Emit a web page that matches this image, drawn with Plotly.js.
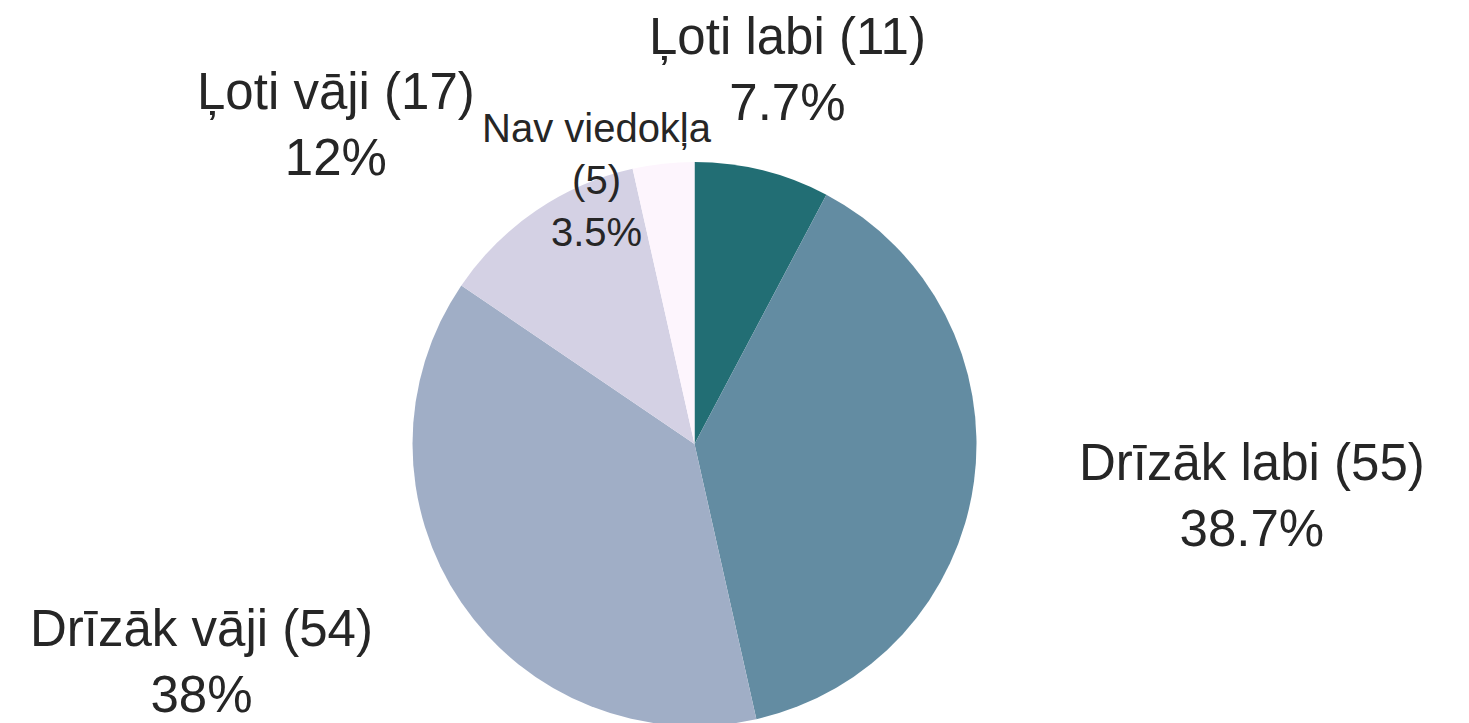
<!DOCTYPE html>
<html>
<head>
<meta charset="utf-8">
<script src="https://cdn.plot.ly/plotly-3.0.1.min.js"></script>
<style>
html,body{margin:0;padding:0;overflow:hidden;background:#fff;}
#chart{width:1469px;height:726px;}
</style>
</head>
<body>
<div id="chart"></div>
<script>
const categories = ["Ļoti labi", "Drīzāk labi", "Drīzāk vāji", "Ļoti vāji", "Nav viedokļa"];
const counts = [11, 55, 54, 17, 5];
const percentLabels = ["7.7%", "38.7%", "38%", "12%", "3.5%"];
const colors = ["#226e74", "#638ca2", "#a0aec6", "#d4d1e4", "#fdf5fd"];

// label placement styling (not data)
const labelRadius = [1.37, 1.37, 1.37, 1.37, 0.998];
const labelAngleShift = [0, 0, 0, 0, -14];
const labelAnchor = ["center", "left", "right", "right", "center"];
const labelSize = [51, 51, 51, 51, 40];
const labelBreak = [" ", " ", " ", " ", "<br>"];

const W = 1469, H = 726;
const margin = {l: 0, r: 80, t: 162, b: 0};
const plotW = W - margin.l - margin.r;
const plotH = H - margin.t - margin.b;
const pieR = Math.min(plotW, plotH) / 2;

const total = counts.reduce((a, b) => a + b, 0);
let cum = 0;
const midAngles = counts.map(v => { const m = (cum + v / 2) / total * 360; cum += v; return m; });
const labelTexts = categories.map((c, i) => c + labelBreak[i] + "(" + counts[i] + ")<br>" + percentLabels[i]);

const annotations = midAngles.map((m, i) => {
  const a = (m + labelAngleShift[i]) * Math.PI / 180;
  return {
    xref: "paper", yref: "paper",
    x: 0.5 + labelRadius[i] * pieR * Math.sin(a) / plotW,
    y: 0.5 + labelRadius[i] * pieR * Math.cos(a) / plotH,
    xanchor: labelAnchor[i], yanchor: "middle",
    align: "center",
    text: labelTexts[i],
    showarrow: false,
    font: {family: "Liberation Sans, Arial, sans-serif", size: labelSize[i], color: "#262626"}
  };
});

const pieTrace = {
  type: "pie",
  labels: categories,
  values: counts,
  textinfo: "none",
  marker: {colors: colors, line: {width: 0}},
  sort: false,
  direction: "clockwise",
  rotation: 0,
  showlegend: false,
  domain: {x: [0, 1], y: [0, 1]},
  hoverinfo: "label+value+percent"
};

const layout = {
  width: W,
  height: H,
  margin: margin,
  paper_bgcolor: "#ffffff",
  plot_bgcolor: "#ffffff",
  showlegend: false,
  font: {family: "Liberation Sans, Arial, sans-serif", color: "#262626"},
  annotations: annotations
};

Plotly.newPlot("chart", [pieTrace], layout, {displayModeBar: false, staticPlot: true});
</script>
</body>
</html>
